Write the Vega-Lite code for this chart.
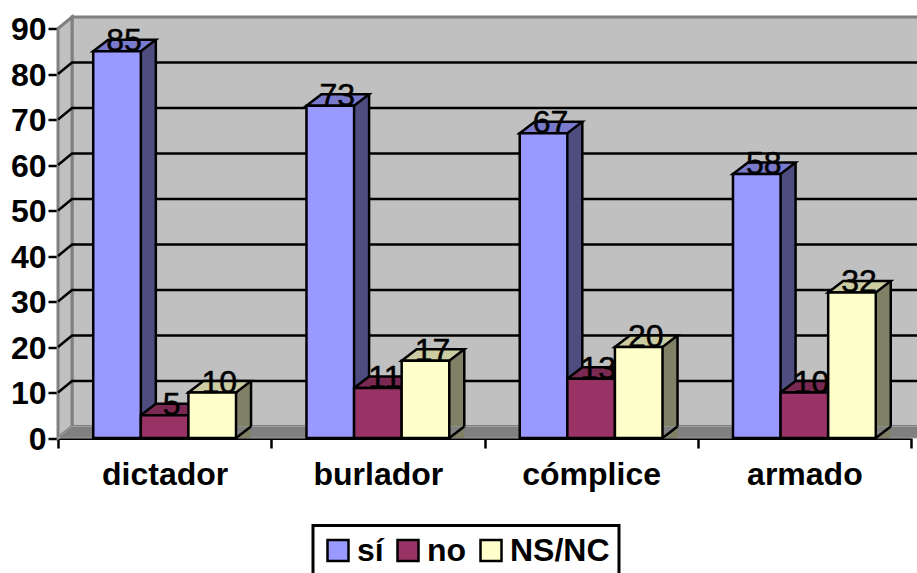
{
"$schema":"https://vega.github.io/schema/vega-lite/v6.json",
"width":853,"height":409.5,"autosize":"none",
"padding":{"left":58,"top":28.5,"right":6,"bottom":135},
"background":"white",
"config":{"view":{"stroke":null},
"legend":{"strokeWidth":3},
"axis":{"labelFont":"Liberation Sans","labelFontWeight":"bold","labelFontSize":32,"labelColor":"black","domainColor":"black","tickColor":"black","domainWidth":3,"tickWidth":2.5,"grid":false,"zindex":1,"title":null},
"axisX":{"tickBand":"extent","tickSize":10,"labelAngle":0,"labelPadding":11},
"axisY":{"tickSize":10,"labelPadding":2,"labelOffset":1,"values":[0,10,20,30,40,50,60,70,80,90]}},
"data":{"values":[
{"cat":"dictador","serie":"sí","value":85},{"cat":"dictador","serie":"no","value":5},{"cat":"dictador","serie":"NS/NC","value":10},
{"cat":"burlador","serie":"sí","value":73},{"cat":"burlador","serie":"no","value":11},{"cat":"burlador","serie":"NS/NC","value":17},
{"cat":"cómplice","serie":"sí","value":67},{"cat":"cómplice","serie":"no","value":13},{"cat":"cómplice","serie":"NS/NC","value":20},
{"cat":"armado","serie":"sí","value":58},{"cat":"armado","serie":"no","value":10},{"cat":"armado","serie":"NS/NC","value":32}]},
"encoding":{
"x":{"field":"cat","type":"nominal","title":null,"sort":null,"scale":{"domain":["dictador","burlador","cómplice","armado"],"paddingInner":0,"paddingOuter":0}},
"y":{"field":"value","type":"quantitative","title":null,"scale":{"domain":[0,90],"nice":false}},
"xOffset":{"field":"serie","type":"nominal","scale":{"domain":["sí","no","NS/NC"],"paddingInner":0,"paddingOuter":0.74}}
},
"layer":[
{"data":{"values":[{"cat":"dictador","value":0}]},"mark":{"type":"point","filled":true,"opacity":1,"size":4,"color":"#C0C0C0","stroke":"#808080","strokeWidth":3,"shape":"M-92.6,-11.5H770V-421H-92.6Z"},"encoding":{"xOffset":null}},
{"data":{"values":[{"cat":"dictador","value":0}]},"mark":{"type":"point","filled":true,"opacity":1,"size":4,"color":"#C0C0C0","stroke":"#808080","strokeWidth":3,"shape":"M-106.6,0L-92.6,-11.5V-421L-106.6,-409.5Z"},"encoding":{"xOffset":null}},
{"data":{"values":[{"cat":"dictador","value":10},{"cat":"dictador","value":20},{"cat":"dictador","value":30},{"cat":"dictador","value":40},{"cat":"dictador","value":50},{"cat":"dictador","value":60},{"cat":"dictador","value":70},{"cat":"dictador","value":80}]},"mark":{"type":"point","filled":false,"fill":null,"opacity":1,"size":4,"stroke":"black","strokeWidth":2.5,"shape":"M-106.6,0L-92.6,-11.5H770"},"encoding":{"xOffset":null}},
{"data":{"values":[{"cat":"dictador","value":0}]},"mark":{"type":"point","filled":true,"opacity":1,"size":4,"color":"#808080","stroke":"#A0A0A0","strokeWidth":1,"shape":"M-106.6,0L-92.6,-11.5H770V0Z"},"encoding":{"xOffset":null}},
{"transform":[{"filter":"datum.serie==='sí'"}],"mark":{"type":"rule","strokeWidth":15,"color":"#4D4D80","xOffset":-16.3,"yOffset":-11.5,"y2Offset":-11.5},"encoding":{"y2":{"datum":0},"xOffset":null}},
{"transform":[{"filter":"datum.serie==='no'"}],"mark":{"type":"rule","strokeWidth":15,"color":"#4D1A33","xOffset":31.3,"yOffset":-11.5,"y2Offset":-11.5},"encoding":{"y2":{"datum":0},"xOffset":null}},
{"transform":[{"filter":"datum.serie==='NS/NC'"}],"mark":{"type":"rule","strokeWidth":15,"color":"#808066","xOffset":78.9,"yOffset":-11.5,"y2Offset":-11.5},"encoding":{"y2":{"datum":0},"xOffset":null}},
{"mark":{"type":"point","filled":true,"opacity":1,"size":4,"shape":"M23.8,0L38.8,-11.5V0Z"},"encoding":{"y":{"datum":0},"color":{"field":"serie","type":"nominal","legend":null,"scale":{"domain":["sí","no","NS/NC"],"range":["#4D4D80","#4D1A33","#808066"]}}}},
{"mark":{"type":"point","filled":false,"fill":null,"opacity":1,"size":4,"stroke":"black","strokeWidth":2.5,"shape":"M23.8,0L38.8,-11.5"},"encoding":{"y":{"datum":0}}},
{"transform":[{"filter":"datum.serie==='sí'"}],"mark":{"type":"rule","strokeWidth":2.5,"color":"black","xOffset":-8.8,"yOffset":-11.5,"y2Offset":-11.5},"encoding":{"y2":{"datum":0},"xOffset":null}},
{"transform":[{"filter":"datum.serie==='no'"}],"mark":{"type":"rule","strokeWidth":2.5,"color":"black","xOffset":38.8,"yOffset":-11.5,"y2Offset":-11.5},"encoding":{"y2":{"datum":0},"xOffset":null}},
{"transform":[{"filter":"datum.serie==='NS/NC'"}],"mark":{"type":"rule","strokeWidth":2.5,"color":"black","xOffset":86.4,"yOffset":-11.5,"y2Offset":-11.5},"encoding":{"y2":{"datum":0},"xOffset":null}},
{"mark":{"type":"point","filled":true,"opacity":1,"size":4,"stroke":"black","strokeWidth":2.5,"shape":"M-23.8,0L-8.8,-11.5H38.8L23.8,0Z"},"encoding":{"color":{"field":"serie","type":"nominal","legend":null,"scale":{"domain":["sí","no","NS/NC"],"range":["#7A7ACC","#7A2952","#CCCCA3"]}}}},
{"mark":{"type":"bar","stroke":"black","strokeWidth":2.5,"opacity":1},"encoding":{"y2":{"datum":0},"color":{"field":"serie","type":"nominal","title":null,"scale":{"domain":["sí","no","NS/NC"],"range":["#9999FF","#993366","#FFFFCC"]},
"legend":{"orient":"none","legendX":255,"legendY":497,"direction":"horizontal","columns":3,"symbolType":"square","symbolSize":441,"symbolStrokeColor":"black","symbolStrokeWidth":2.5,"symbolOpacity":1,"labelFont":"Liberation Sans","labelFontWeight":"bold","labelFontSize":32,"labelColor":"black","labelLimit":200,"strokeColor":"black","fillColor":"white","padding":9,"columnPadding":8,"labelOffset":3}}}},
{"mark":{"type":"text","font":"Liberation Sans","fontSize":32,"color":"black","stroke":"black","strokeWidth":0.5,"baseline":"alphabetic","align":"center","dx":7},"encoding":{"text":{"field":"value","type":"quantitative"}}}
],
"resolve":{"scale":{"color":"independent"}}
}
